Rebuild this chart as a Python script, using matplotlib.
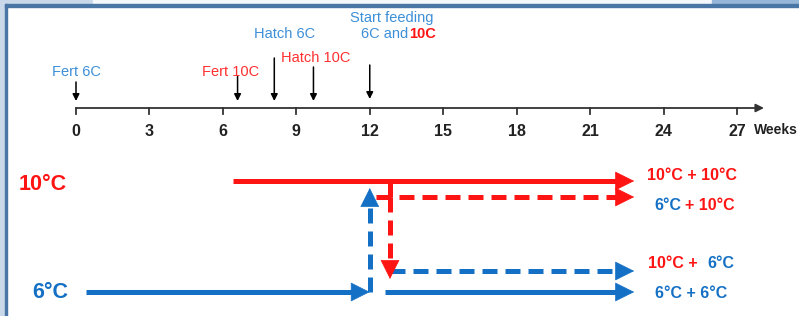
import matplotlib.pyplot as plt
from matplotlib.patches import Rectangle

plt.rcParams['font.family'] = ['Liberation Sans', 'DejaVu Sans']

RED = '#ff1414'
BLUE = '#1470c4'
LBLUE = '#3d8fd8'
LRED = '#ff3030'

# timeline (weeks)
week_ticks = [0, 3, 6, 9, 12, 15, 18, 21, 24, 27]
event_names = ['Fert 6C', 'Fert 10C', 'Hatch 6C', 'Hatch 10C']
event_weeks = [0, 6.6, 8.1, 9.7]
event_colors = [LBLUE, LRED, LBLUE, LRED]
feeding_week = 12

# treatment arrows (weeks)
start_6C = 0.4
start_10C = 6.4
switch_week = 12
end_week = 22.8
groups = ['10°C + 10°C', '6°C + 10°C', '10°C +  6°C', '6°C + 6°C']

# layout: x in weeks mapped to pixels, y in pixels from top
px_per_week = 24.48
x0 = 76
fig = plt.figure(figsize=(7.99, 3.16), dpi=100)
ax = fig.add_axes([0, 0, 1, 1])
ax.set_xlim(-x0 / px_per_week, (799 - x0) / px_per_week)
ax.set_ylim(316, 0)
ax.axis('off')

def wk(px):
    return (px - x0) / px_per_week

# frame of the screenshot
fig.patches.append(Rectangle((0, 0), 5 / 799, 1, transform=fig.transFigure, color='#c9d9ea', zorder=0))
fig.patches.append(Rectangle((0, 1 - 4 / 316), 1, 4 / 316, transform=fig.transFigure, color='#c9d9ea', zorder=0))
fig.patches.append(Rectangle((93 / 799, 1 - 2.5 / 316), 619 / 799, 2.5 / 316, transform=fig.transFigure, color='#f4f7fb', zorder=0))
fig.patches.append(Rectangle((712 / 799, 1 - 4 / 316), 87 / 799, 4 / 316, transform=fig.transFigure, color='#97b7d8', zorder=0))
fig.patches.append(Rectangle((5 / 799, 0), 2 / 799, 1 - 4 / 316, transform=fig.transFigure, color='#4a76a6', zorder=1))
fig.patches.append(Rectangle((5 / 799, 1 - 7 / 316), 1 - 5 / 799, 2.5 / 316, transform=fig.transFigure, color='#4a76a6', zorder=1))

# time axis
axis_y = 108
ax.annotate('', xy=(wk(764), axis_y), xytext=(0, axis_y),
            arrowprops=dict(arrowstyle='-|>', color='#333333', lw=1.3, mutation_scale=12, shrinkA=0, shrinkB=0))
for t in week_ticks:
    ax.plot([t, t], [axis_y, axis_y + 6], color='#333333', lw=1.3)
    ax.text(t, 131, str(t), ha='center', va='center', fontsize=11.5, fontweight='bold', color='#222222')
ax.text(wk(754), 130, 'Weeks', ha='left', va='center', fontsize=10, fontweight='bold', color='#222222')

# events
arrow_tops = [82, 76, 58, 67]
label_y = [72, 72, 34, 58]
label_dx = [0, -0.3, 0.4, 0.1]
for name, w, c, top, ly, dx in zip(event_names, event_weeks, event_colors, arrow_tops, label_y, label_dx):
    ax.annotate('', xy=(w, 101), xytext=(w, top),
                arrowprops=dict(arrowstyle='-|>', color='black', lw=1.1, mutation_scale=10, shrinkA=0, shrinkB=0))
    ax.text(w + dx, ly, name, ha='center', va='center', fontsize=10.5, color=c)
ax.annotate('', xy=(feeding_week, 99), xytext=(feeding_week, 65),
            arrowprops=dict(arrowstyle='-|>', color='black', lw=1.1, mutation_scale=10, shrinkA=0, shrinkB=0))
ax.text(feeding_week + 0.9, 18, 'Start feeding', ha='center', va='center', fontsize=10.5, color=LBLUE)
ax.text(wk(361), 34, '6C and', ha='left', va='center', fontsize=10.5, color=LBLUE)
ax.text(wk(409), 34, '10C', ha='left', va='center', fontsize=10.5, color=RED, fontweight='bold')

# treatment diagram
y10, y10d, y6d, y6 = 181, 197, 271, 292
LW = 3.6
head = dict(arrowstyle='-|>', lw=0.5, mutation_scale=32, shrinkA=0, shrinkB=0)

def arrow(x1, y1, x2, y2, color, dashed=False):
    # shaft, stopping short of the head, then a solid head at the end
    hx = 0.7 if x2 != x1 else 0
    hy = 17 if y2 != y1 else 0
    sx = x2 - hx * (1 if x2 > x1 else -1)
    sy = y2 - hy * (1 if y2 > y1 else -1)
    ls = (0, (3, 1.6)) if dashed else '-'
    ax.plot([x1, sx], [y1, sy], color=color, lw=LW, linestyle=ls, solid_capstyle='butt', dash_capstyle='butt')
    ax.annotate('', xy=(x2, y2), xytext=(sx, sy), arrowprops=dict(color=color, **head))

ax.text(wk(43), 184, '10°C', ha='center', va='center', fontsize=15.5, fontweight='bold', color=RED)
ax.text(wk(50), 293, '6°C', ha='center', va='center', fontsize=15.5, fontweight='bold', color=BLUE)

split = wk(390)
# 10C line
arrow(start_10C, y10, end_week, y10, RED)
ax.plot([split, split], [y10, y10d], color=RED, lw=LW, solid_capstyle='butt')
arrow(wk(376), y10d, end_week, y10d, RED, dashed=True)
arrow(split, y10d, split, 279, RED, dashed=True)
# 6C line
arrow(start_6C, y6, switch_week, y6, BLUE)
arrow(wk(385), y6, end_week, y6, BLUE)
arrow(split, y6d, end_week, y6d, BLUE, dashed=True)
arrow(switch_week, y6, switch_week, 188, BLUE, dashed=True)

# group labels
fs = 11.5
ax.text(wk(692), 176, groups[0], ha='center', va='center', fontsize=fs, fontweight='bold', color=RED)
ax.text(wk(654), 205, '6°C', ha='left', va='center', fontsize=fs, fontweight='bold', color=BLUE)
ax.text(wk(685), 205, '+ 10°C', ha='left', va='center', fontsize=fs, fontweight='bold', color=RED)
ax.text(wk(648), 263, '10°C +', ha='left', va='center', fontsize=fs, fontweight='bold', color=RED)
ax.text(wk(707), 263, '6°C', ha='left', va='center', fontsize=fs, fontweight='bold', color=BLUE)
ax.text(wk(691), 293, groups[3], ha='center', va='center', fontsize=fs, fontweight='bold', color=BLUE)

fig.savefig('out.png', dpi=100)
